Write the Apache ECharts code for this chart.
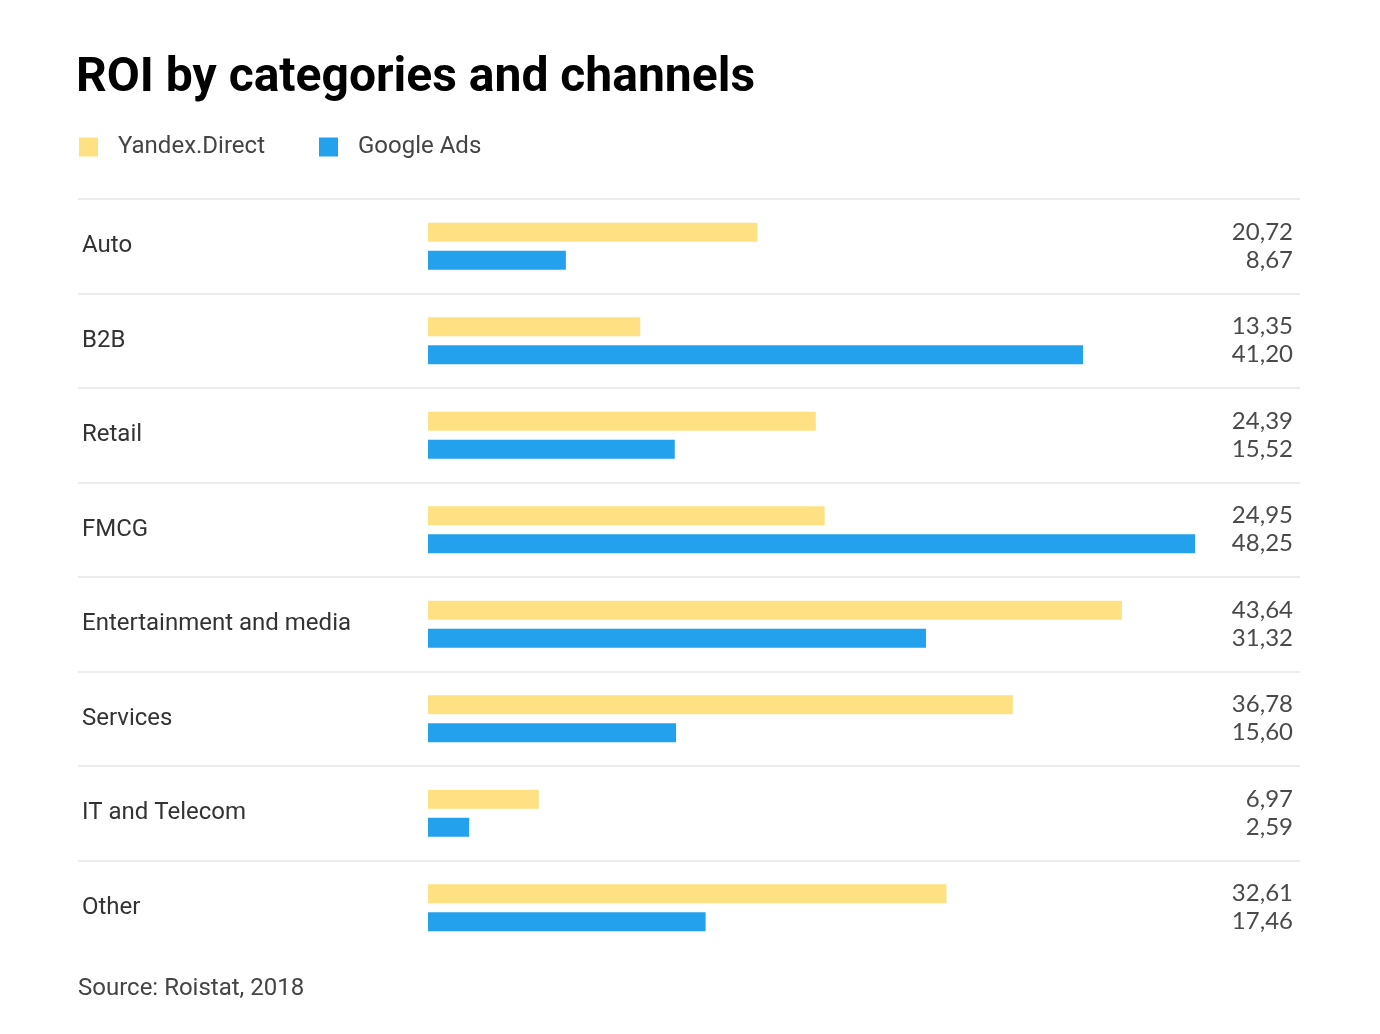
<!DOCTYPE html>
<html><head><meta charset="utf-8">
<script src="https://cdn.jsdelivr.net/npm/echarts@6/dist/echarts.min.js"></script>
<style>html,body{margin:0;padding:0;background:#fff}#c{width:1380px;height:1034px}</style>
</head><body><div id="c"></div>
<script>
const categories = ['Auto','B2B','Retail','FMCG','Entertainment and media','Services','IT and Telecom','Other'];
const yandexValues = [20.72,13.35,24.39,24.95,43.64,36.78,6.97,32.61];
const googleValues = [8.67,41.20,15.52,48.25,31.32,15.60,2.59,17.46];
const seriesNames = ['Yandex.Direct','Google Ads'];
const colors = ['#FEE183','#24A1EC'];
const titleText = 'ROI by categories and channels';
const sourceText = 'Source: Roistat, 2018';
const fmt = v => v.toFixed(2).replace('.', ',');

const chart = echarts.init(document.getElementById('c'), null, {renderer:'canvas'});
chart.setOption({
  animation: false,
  backgroundColor: '#fff',
  title: [
    {text: titleText, left: 71, top: 50, textStyle: {fontFamily: 'Roboto', fontWeight: 'bold', fontSize: 48, color: '#000'}},
    {text: sourceText, left: 73, top: 972, textStyle: {fontFamily: 'Roboto', fontWeight: 'normal', fontSize: 24, color: '#444'}}
  ],
  legend: {
    left: 74, top: 130, icon: 'rect', itemWidth: 19, itemHeight: 19, itemGap: 54,
    textStyle: {fontFamily: 'Roboto', fontSize: 24, color: '#444', padding: [0,0,0,15]},
    data: seriesNames
  },
  grid: [
    {left: 78, width: 1222, top: 199, height: 756},
    {left: 428, width: 795, top: 199, height: 756}
  ],
  xAxis: [
    {type: 'value', gridIndex: 0, show: false, min: 0, max: 1},
    {type: 'value', gridIndex: 1, show: false, min: 0, max: 50}
  ],
  yAxis: [
    {type: 'category', gridIndex: 0, inverse: true, data: categories,
     axisLine: {show: false}, axisTick: {show: false},
     splitLine: {show: true, showMaxLine: false, lineStyle: {color: '#ececec', width: 2}},
     axisLabel: {align: 'left', margin: -4, fontFamily: 'Roboto', fontSize: 24, color: '#333', padding: [0,0,6,0]}},
    {type: 'category', gridIndex: 1, inverse: true, data: categories,
     axisLine: {show: false}, axisTick: {show: false}, axisLabel: {show: false}, splitLine: {show: false}},
    {type: 'category', gridIndex: 1, inverse: true, position: 'right', data: categories,
     axisLine: {show: false}, axisTick: {show: false}, splitLine: {show: false},
     axisLabel: {align: 'right', margin: 70, fontFamily: 'Lato', fontSize: 24, lineHeight: 28, color: '#4a4a4a',
       padding: [4,0,0,0],
       formatter: (v, i) => fmt(yandexValues[i]) + '\n' + fmt(googleValues[i])}}
  ],
  series: [
    {name: seriesNames[0], type: 'bar', xAxisIndex: 1, yAxisIndex: 1, data: yandexValues,
     barWidth: 19, barGap: '47%', itemStyle: {color: colors[0]}},
    {name: seriesNames[1], type: 'bar', xAxisIndex: 1, yAxisIndex: 1, data: googleValues,
     barWidth: 19, barGap: '47%', itemStyle: {color: colors[1]}}
  ]
});
</script></body></html>
